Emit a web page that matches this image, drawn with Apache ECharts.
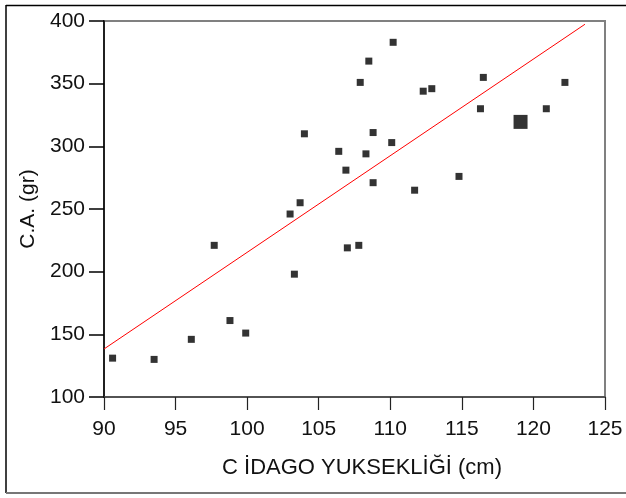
<!DOCTYPE html>
<html>
<head>
<meta charset="utf-8">
<script src="https://cdn.jsdelivr.net/npm/echarts@6/dist/echarts.min.js"></script>
<style>
html,body{margin:0;padding:0;background:#fff;}
#c{width:626px;height:498px;}
</style>
</head>
<body>
<div id="c"></div>
<script>
// Data
const xTicks = [90, 95, 100, 105, 110, 115, 120, 125];
const yTicks = [100, 150, 200, 250, 300, 350, 400];
const heightCm = [90.6, 93.5, 96.1, 97.7, 98.8, 99.9, 103.0, 103.3, 103.7, 104.0,
  106.4, 106.9, 107.0, 107.8, 107.9, 108.5, 108.3, 108.8, 108.8, 110.1,
  110.2, 111.7, 112.3, 112.9, 114.8, 116.3, 116.5, 120.9, 122.2];
const weightGr = [131, 130, 146, 221, 161, 151, 246, 198, 255, 310,
  296, 281, 219, 221, 351, 368, 294, 311, 271, 303,
  383, 265, 344, 346, 276, 330, 355, 330, 351];
const highlightX = [119.1];
const highlightY = [319.5];
const fitX = [90, 123.6];
const fitY = [138.3, 397.4];
const xName = 'C İDAGO YUKSEKLİĞİ (cm)';
const yName = 'C.A. (gr)';

const zip = (a, b) => a.map((v, i) => [v, b[i]]);
const font = '"Liberation Sans", Arial, sans-serif';

const chart = echarts.init(document.getElementById('c'), null, {renderer: 'canvas'});
chart.setOption({
  backgroundColor: '#fff',
  animation: false,
  grid: {left: 104, top: 21, width: 501, height: 376, show: true,
    borderColor: '#808080', borderWidth: 2, backgroundColor: 'transparent'},
  xAxis: {
    type: 'value', min: xTicks[0], max: xTicks[xTicks.length - 1], interval: 5,
    splitLine: {show: false},
    axisLine: {show: true, onZero: false, lineStyle: {color: '#444', width: 1.5}},
    axisTick: {show: true, inside: false, length: 13, lineStyle: {color: '#222', width: 1.2}},
    axisLabel: {color: '#111', fontFamily: font, fontSize: 21, margin: 22,
      showMinLabel: true, showMaxLabel: true}
  },
  yAxis: {
    type: 'value', min: yTicks[0], max: yTicks[yTicks.length - 1], interval: 50,
    splitLine: {show: false},
    axisLine: {show: true, onZero: false, lineStyle: {color: '#000', width: 1.5}},
    axisTick: {show: true, inside: false, length: 15, lineStyle: {color: '#000', width: 1.5}},
    axisLabel: {color: '#111', fontFamily: font, fontSize: 21, margin: 19,
      padding: [6, 0, 0, 0], showMinLabel: true, showMaxLabel: true}
  },
  series: [
    {type: 'line', data: zip(fitX, fitY), symbol: 'none', silent: true,
      lineStyle: {color: '#ff0000', width: 1}, z: 2},
    {type: 'scatter', data: zip(heightCm, weightGr), symbol: 'rect', symbolSize: 7,
      itemStyle: {color: '#000'}, z: 3},
    {type: 'scatter', data: zip(highlightX, highlightY), symbol: 'rect', symbolSize: 14,
      itemStyle: {color: '#000'}, z: 3}
  ],
  graphic: [
    {type: 'line', shape: {x1: 6, y1: 5.5, x2: 626, y2: 5.5}, style: {stroke: '#000', lineWidth: 1.5}},
    {type: 'line', shape: {x1: 6, y1: 5, x2: 6, y2: 493}, style: {stroke: '#000', lineWidth: 1.5}},
    {type: 'line', shape: {x1: 6, y1: 493, x2: 626, y2: 493}, style: {stroke: '#777', lineWidth: 2}},
    {type: 'text', x: 362, y: 468, style: {text: xName, fontFamily: font, fontSize: 22,
      fill: '#111', align: 'center', verticalAlign: 'middle'}},
    {type: 'text', x: 28, y: 209, rotation: Math.PI / 2, style: {text: yName, fontFamily: font,
      fontSize: 21, fill: '#111', align: 'center', verticalAlign: 'middle'}}
  ]
});
</script>
</body>
</html>
